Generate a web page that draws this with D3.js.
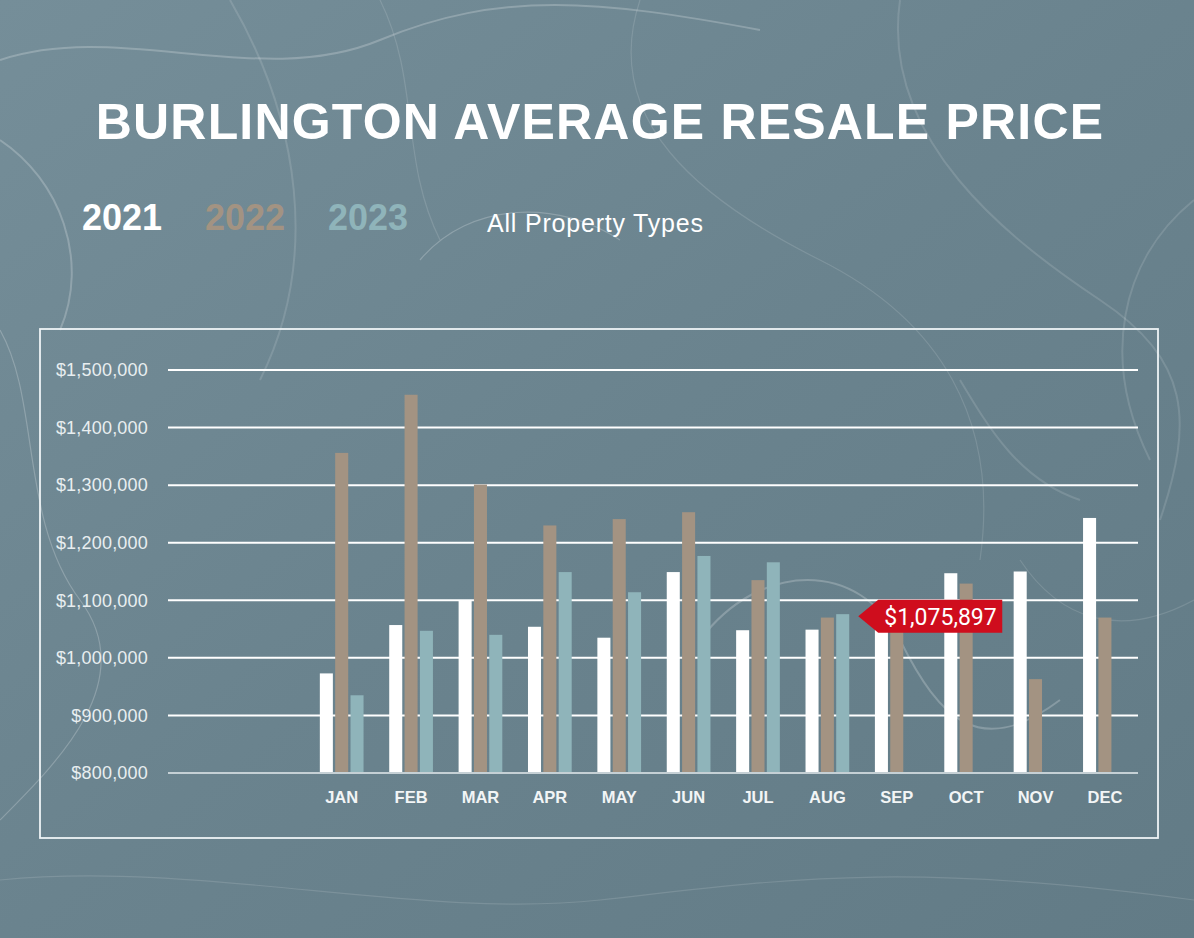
<!DOCTYPE html>
<html>
<head>
<meta charset="utf-8">
<script src="https://cdn.jsdelivr.net/npm/d3@7"></script>
<style>
  html, body { margin: 0; padding: 0; background: #6a838e; }
  svg { display: block; }
</style>
</head>
<body>
<div id="chart"></div>
<script>
// chart data
var months = ['JAN', 'FEB', 'MAR', 'APR', 'MAY', 'JUN', 'JUL', 'AUG', 'SEP', 'OCT', 'NOV', 'DEC'];
var years = ['2021', '2022', '2023'];
var values2021 = [973000, 1057000, 1099000, 1054000, 1035000, 1149000, 1048000, 1049000, 1060000, 1147000, 1150000, 1243000];
var values2022 = [1356000, 1457000, 1301000, 1230000, 1241000, 1253000, 1135000, 1070000, 1050000, 1129000, 963000, 1070000];
var values2023 = [935000, 1047000, 1040000, 1149000, 1114000, 1177000, 1166000, 1075897, null, null, null, null];
var yTicks = [800000, 900000, 1000000, 1100000, 1200000, 1300000, 1400000, 1500000];
var calloutMonth = 'AUG', calloutYear = '2023', calloutValue = 1075897;

var width = 1194, height = 938;
var colors = { '2021': '#ffffff', '2022': '#a39382', '2023': '#8fb4ba' };

var series = { '2021': values2021, '2022': values2022, '2023': values2023 };
var rows = months.map(function(m, i) {
    return { month: m, vals: years.map(function(y) { return { year: y, value: series[y][i] }; }) };
});

var svg = d3.select('#chart').append('svg')
    .attr('width', width)
    .attr('height', height);

// background
var defs = svg.append('defs');
var grad = defs.append('linearGradient').attr('id', 'bg')
    .attr('x1', '0').attr('y1', '0').attr('x2', '1').attr('y2', '1');
grad.append('stop').attr('offset', '0%').attr('stop-color', '#758e99');
grad.append('stop').attr('offset', '50%').attr('stop-color', '#6a838e');
grad.append('stop').attr('offset', '100%').attr('stop-color', '#627b86');

svg.append('rect').attr('width', width).attr('height', height).attr('fill', 'url(#bg)');

// marble swirls (decorative)
var swirls = [
    'M0,60 C120,20 260,90 380,40 S600,0 760,30',
    'M640,0 C600,120 700,200 820,260 S1000,420 980,560',
    'M900,0 C880,140 1010,240 1100,300 S1194,420 1160,520',
    'M0,330 C40,400 20,520 80,600 S60,760 0,820',
    'M230,0 C300,120 320,260 260,380',
    'M1020,560 C1060,620 1120,640 1194,600',
    'M700,640 C760,560 860,560 900,640 S980,760 1060,700',
    'M0,880 C200,860 420,920 600,900 S900,860 1194,900',
    'M1194,200 C1120,260 1100,360 1150,460',
    'M420,260 C470,200 560,200 620,240',
    'M960,380 C990,430 1020,480 1080,500',
    'M380,0 C420,80 400,160 440,240',
    'M0,140 C60,180 90,260 60,330'
];
svg.append('g').selectAll('path').data(swirls).enter().append('path')
    .attr('d', function(d) { return d; })
    .attr('fill', 'none')
    .attr('stroke', '#ffffff')
    .attr('stroke-opacity', function(d, i) { return i % 3 === 0 ? 0.22 : 0.13; })
    .attr('stroke-width', function(d, i) { return i % 2 === 0 ? 2 : 1.2; });

// title and legend
svg.append('text')
    .attr('x', 600).attr('y', 139)
    .attr('text-anchor', 'middle')
    .style('font-family', 'Arial, "Liberation Sans", sans-serif')
    .style('font-weight', 'bold')
    .style('font-size', '50px')
    .style('letter-spacing', '1.2px')
    .attr('fill', '#ffffff')
    .text('BURLINGTON AVERAGE RESALE PRICE');

var legendX = [82, 205, 328];
svg.append('g').selectAll('text').data(years).enter().append('text')
    .attr('x', function(d, i) { return legendX[i]; })
    .attr('y', 230)
    .style('font-family', 'Arial, "Liberation Sans", sans-serif')
    .style('font-weight', 'bold')
    .style('font-size', '36px')
    .attr('fill', function(d) { return colors[d]; })
    .text(function(d) { return d; });

svg.append('text')
    .attr('x', 487).attr('y', 232)
    .style('font-family', 'Arial, "Liberation Sans", sans-serif')
    .style('font-size', '25px')
    .style('letter-spacing', '0.8px')
    .attr('fill', '#ffffff')
    .text('All Property Types');

// frame
svg.append('rect')
    .attr('x', 40).attr('y', 329)
    .attr('width', 1118).attr('height', 509)
    .attr('fill', 'none')
    .attr('stroke', '#eef3f5')
    .attr('stroke-width', 1.8);

// scales
var yScale = d3.scaleLinear().domain([800000, 1500000]).range([773, 370]);
var xScale = d3.scaleBand().domain(months).range([307, 1139.6])
    .paddingInner(0.37).paddingOuter(0.185);
var x1 = d3.scaleBand().domain(years).range([0, xScale.bandwidth()]).paddingInner(0.15);

// gridlines
var grid = svg.append('g').attr('class', 'grid');
grid.selectAll('line').data(yTicks).enter().append('line')
    .attr('x1', 168).attr('x2', 1138)
    .attr('y1', function(d) { return yScale(d); })
    .attr('y2', function(d) { return yScale(d); })
    .attr('stroke', function(d) { return d === 800000 ? '#c5d0d5' : '#ffffff'; })
    .attr('stroke-width', 2);

// y axis labels
var yAxis = d3.axisLeft(yScale).tickValues(yTicks).tickSize(0).tickPadding(0)
    .tickFormat(function(d) { return '$' + d3.format(',')(d); });
var yG = svg.append('g').attr('transform', 'translate(148,0)').call(yAxis);
yG.select('.domain').remove();
yG.selectAll('text')
    .style('font-family', 'Arial, "Liberation Sans", sans-serif')
    .style('font-size', '18px')
    .style('letter-spacing', '0.2px')
    .attr('fill', '#e8eef0');

// bars
var groups = svg.append('g').selectAll('g').data(rows).enter().append('g')
    .attr('transform', function(d) { return 'translate(' + xScale(d.month) + ',0)'; });
groups.selectAll('rect')
    .data(function(d) { return d.vals.filter(function(v) { return v.value != null; }); })
    .enter().append('rect')
    .attr('x', function(d) { return x1(d.year); })
    .attr('width', x1.bandwidth())
    .attr('y', function(d) { return yScale(d.value); })
    .attr('height', function(d) { return yScale(800000) - yScale(d.value) - 1; })
    .attr('fill', function(d) { return colors[d.year]; });

// x axis labels
var xAxis = d3.axisBottom(xScale).tickSize(0).tickPadding(0);
var xG = svg.append('g').attr('transform', 'translate(0,791)').call(xAxis);
xG.select('.domain').remove();
xG.selectAll('text')
    .style('font-family', 'Arial, "Liberation Sans", sans-serif')
    .style('font-weight', 'bold')
    .style('font-size', '16.5px')
    .attr('fill', '#f2f5f6');

// callout
var tipX = xScale(calloutMonth) + x1(calloutYear) + x1.bandwidth() + 9;
var tipY = yScale(calloutValue) + 2;
var callout = svg.append('g').attr('transform', 'translate(' + tipX + ',' + tipY + ')');
callout.append('path')
    .attr('d', 'M0,0 L20,-16.5 L144,-16.5 L144,16.5 L20,16.5 Z')
    .attr('fill', '#cf0d1d');
callout.append('text')
    .attr('x', 26).attr('y', 9)
    .style('font-family', 'Roboto, Arial, sans-serif')
    .style('font-size', '23px')
    .attr('fill', '#ffffff')
    .text('$' + d3.format(',')(calloutValue));
</script>
</body>
</html>
